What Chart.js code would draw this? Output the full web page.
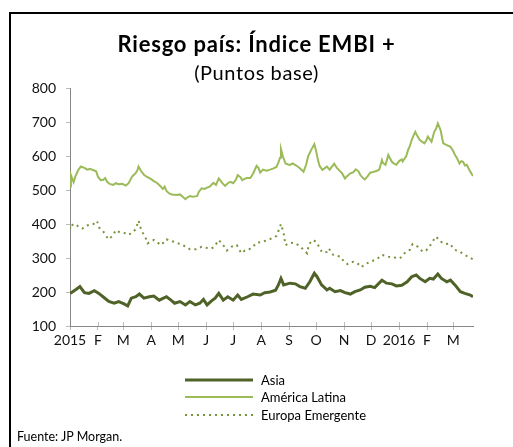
<!DOCTYPE html>
<html><head><meta charset="utf-8">
<script src="https://cdn.jsdelivr.net/npm/chart.js@4/dist/chart.umd.min.js"></script>
<style>
html,body{margin:0;padding:0;background:#fff;}
#wrap{position:relative;width:513px;height:447px;overflow:hidden;font-family:Lato,"Open Sans",sans-serif;color:#000;}
#frame{position:absolute;left:9px;top:12px;width:700px;height:700px;border-left:2px solid #000;border-top:2px solid #000;}
#title{position:absolute;left:0;width:513px;top:31px;text-align:center;font-weight:bold;font-size:22px;letter-spacing:0.8px;line-height:26px;}
#sub{position:absolute;left:0;width:513px;top:60px;text-align:center;font-size:20px;letter-spacing:0.6px;line-height:24px;}
#src{position:absolute;left:17px;top:430px;font-size:12.5px;line-height:14px;}
canvas{position:absolute;left:0;top:0;}
</style></head>
<body><div id="wrap">
<div id="frame"></div>
<canvas id="c" width="513" height="447"></canvas>
<div id="title">Riesgo país: Índice EMBI +</div>
<div id="sub">(Puntos base)</div>
<div id="src">Fuente: JP Morgan.</div>
</div>
<script>
// Days since 1 Jan 2015
const monthTickDays = [0,31,59,90,120,151,181,212,243,273,304,334,365,396,425];
const monthTickLabels = ['2015','F','M','A','M','J','J','A','S','O','N','D','2016','F','M'];

const asiaDays = [0,3,7,11,16,21,27,32,38,43,49,54,60,64,68,73,77,82,88,93,99,107,112,116,122,128,133,139,144,148,152,157,161,165,170,175,181,186,190,197,203,211,216,222,228,231,234,237,244,250,255,261,266,271,274,279,285,288,294,300,305,311,316,322,327,333,338,346,351,357,362,368,374,379,384,388,394,399,403,408,412,418,422,427,433,438,444,447];
const asiaValues = [196,201,208,216,198,196,204,196,183,172,167,172,165,159,182,186,194,182,186,188,176,186,176,167,172,162,172,162,167,178,162,174,182,196,176,186,176,191,178,186,194,191,198,200,205,220,240,221,226,224,216,211,230,255,245,221,206,211,201,204,198,194,201,206,214,217,213,235,226,224,218,220,230,245,250,240,230,240,238,253,240,230,235,221,201,196,191,186];

const latamDays = [0,1,3,4,6,9,12,16,19,22,26,29,31,34,37,39,41,44,48,51,54,58,62,65,69,71,73,75,76,79,82,85,90,93,97,100,103,105,107,110,113,118,122,125,128,130,133,136,141,143,146,149,152,155,159,162,165,169,172,175,178,181,184,186,189,191,193,196,200,203,207,209,211,214,218,222,225,229,231,233,234,236,239,242,244,247,251,255,259,262,264,267,271,273,275,277,280,283,285,288,291,293,296,300,302,305,307,311,314,317,320,322,325,327,330,333,336,340,343,346,347,350,353,357,359,362,365,368,369,373,375,377,379,381,383,385,388,393,395,397,401,404,406,408,411,414,418,422,425,427,429,432,434,436,438,440,444,447];
const latamValues = [510,544,530,523,540,558,569,565,560,562,558,555,539,529,530,535,525,518,515,520,517,518,513,520,540,545,550,560,569,555,545,539,532,526,520,512,503,510,497,490,487,485,487,480,473,478,482,480,482,495,505,503,507,510,521,515,534,520,512,520,524,520,530,544,538,529,532,535,535,548,571,565,551,560,557,560,563,568,580,595,620,600,578,575,574,578,572,564,554,575,598,615,635,615,588,570,559,565,569,560,570,577,565,554,548,534,540,549,552,561,555,544,535,531,540,551,553,556,560,588,580,574,603,583,578,574,585,590,584,600,618,630,647,660,671,660,647,637,645,657,642,671,680,696,676,637,632,627,615,603,595,578,585,583,572,574,554,541];

const europeDays = [0,1,4,7,10,14,18,22,26,30,32,36,40,43,47,51,54,60,65,70,73,76,79,84,86,93,101,107,111,115,118,125,133,140,146,151,157,160,165,170,174,179,185,190,194,201,207,214,222,229,231,234,237,239,244,250,255,259,263,265,270,274,277,280,285,287,292,300,304,308,314,319,323,329,333,340,346,353,358,366,369,373,377,380,386,391,395,399,402,406,411,417,421,427,432,438,443,447];
const europeValues = [385,400,395,398,390,387,395,398,400,409,390,382,365,355,365,382,377,374,368,377,385,410,382,358,343,353,338,355,351,348,345,338,326,326,333,330,328,333,353,338,322,333,338,314,322,328,345,348,356,365,378,400,373,338,345,343,335,324,314,341,353,345,328,316,318,328,309,304,289,282,289,284,273,284,289,296,309,304,302,299,309,319,324,341,333,319,322,335,348,363,348,341,343,324,319,309,302,296];

const seriesNames = ['Asia','América Latina','Europa Emergente'];

function pts(days, vals){ return days.map((d,i)=>({x:d,y:vals[i]})); }

const legendYs = [380,397,415];
const legendPlugin = {
  id:'customLegend',
  afterDraw(chart){
    const c = chart.ctx;
    chart.data.datasets.forEach((ds,i)=>{
      c.save();
      c.strokeStyle = ds.borderColor;
      c.lineWidth = ds.borderWidth;
      c.setLineDash(ds.borderDash || []);
      c.beginPath();
      c.moveTo(185, legendYs[i]);
      c.lineTo(253, legendYs[i]);
      c.stroke();
      c.setLineDash([]);
      c.fillStyle = '#000';
      c.font = '13px Lato';
      c.textBaseline = 'middle';
      c.fillText(ds.label, 261, legendYs[i] + 1);
      c.restore();
    });
    // small tick marks crossing the x axis, as in the reference
    const xs = chart.scales.x, bottom = chart.chartArea.bottom;
    c.save();
    c.strokeStyle = '#bbb'; c.lineWidth = 1;
    monthTickDays.forEach(d=>{
      const px = Math.round(xs.getPixelForValue(d)) + 0.5;
      if (d === 0) return;
      c.beginPath(); c.moveTo(px, bottom - 4); c.lineTo(px, bottom); c.stroke();
    });
    c.restore();
  }
};

const tickFont = {family:'Lato', size:14};

new Chart(document.getElementById('c'), {
  type:'line',
  data:{datasets:[
    {label:seriesNames[0], data:pts(asiaDays,asiaValues), borderColor:'#4f6228', borderWidth:3, pointRadius:0, tension:0, fill:false},
    {label:seriesNames[1], data:pts(latamDays,latamValues), borderColor:'#9bbb59', borderWidth:2, pointRadius:0, tension:0, fill:false},
    {label:seriesNames[2], data:pts(europeDays,europeValues), borderColor:'#77933c', borderWidth:2, borderDash:[2,4], pointRadius:0, tension:0, fill:false}
  ]},
  options:{
    responsive:false, animation:false,
    layout:{padding:{left:0,right:40,top:88,bottom:0}},
    plugins:{legend:{display:false}, tooltip:{enabled:false}, title:{display:false}},
    scales:{
      x:{type:'linear', min:0, max:447,
        afterBuildTicks:s=>{ s.ticks = monthTickDays.map(v=>({value:v})); },
        afterFit:s=>{ s.height = 447-326; },
        ticks:{autoSkip:false, maxRotation:0, color:'#111', font:tickFont, padding:2,
          callback:(v,i)=>monthTickLabels[i]},
        grid:{drawOnChartArea:false, color:'#bbb', tickLength:4},
        border:{color:'#888', width:1}
      },
      y:{min:100, max:800,
        afterFit:s=>{ s.width = 70; },
        ticks:{stepSize:100, color:'#111', font:tickFont, padding:10},
        grid:{drawOnChartArea:false, color:'#bbb', tickLength:4},
        border:{color:'#888', width:1}
      }
    }
  },
  plugins:[legendPlugin]
});
</script>
</body></html>
